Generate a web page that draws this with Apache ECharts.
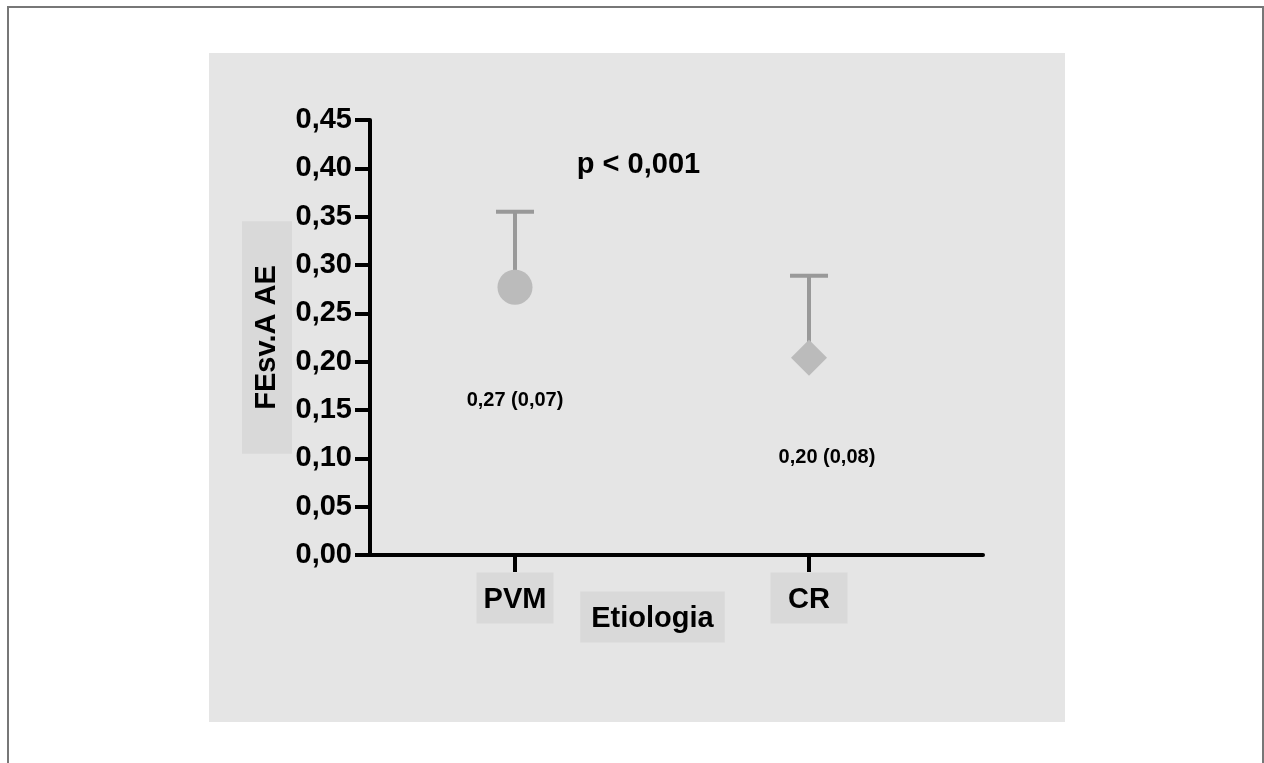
<!DOCTYPE html>
<html>
<head>
<meta charset="utf-8">
<script src="https://cdn.jsdelivr.net/npm/echarts@6/dist/echarts.min.js"></script>
<style>
  html,body{margin:0;padding:0;background:#fff;}
  #chart{width:1264px;height:763px;}
</style>
</head>
<body>
<div id="chart"></div>
<script>
// groups on the x axis (placed at 1 and 2)
var categories = ['PVM', 'CR'];
var catPos = [1, 2];
var means = [0.277, 0.204];
var upper = [0.355, 0.289];
var symbols = ['circle', 'diamond'];
var yTicks = [0, 0.05, 0.10, 0.15, 0.20, 0.25, 0.30, 0.35, 0.40, 0.45];

// text notes
var noteText = ['p < 0,001', '0,27 (0,07)', '0,20 (0,08)'];
var noteX = [1.42, 1.0, 2.061];
var noteY = [0.403, 0.160, 0.101];
var noteSize = [29, 20, 20];

var FONT = '"Liberation Sans Narrow", "Arial Narrow", "Liberation Sans", Arial, sans-serif';

var chart = echarts.init(document.getElementById('chart'));

var errData = catPos.map(function (x, i) { return [x, means[i], upper[i]]; });
var markData = catPos.map(function (x, i) {
  return { value: [x, means[i]], symbol: symbols[i], symbolSize: i === 0 ? 35 : 36 };
});
var notes = noteText.map(function (t, i) {
  return { value: [noteX[i], noteY[i]], name: t, label: { fontSize: noteSize[i] } };
});

var option = {
  animation: false,
  backgroundColor: '#fff',
  graphic: [
    { type: 'rect', z: -10, shape: { x: 8, y: 7, width: 1255, height: 800 },
      style: { fill: '#fff', stroke: '#777', lineWidth: 2 } },
    { type: 'rect', z: -9, shape: { x: 209, y: 53, width: 856, height: 669 },
      style: { fill: '#e5e5e5' } }
  ],
  grid: { left: 370, right: 281, top: 120, bottom: 208, containLabel: false },
  xAxis: {
    type: 'value',
    min: 0.5068,
    max: 2.5918,
    splitLine: { show: false },
    axisLine: { show: true, onZero: false, lineStyle: { color: '#000', width: 4 } },
    axisTick: { show: true, length: 17, customValues: catPos, lineStyle: { color: '#000', width: 4 } },
    axisLabel: {
      customValues: catPos,
      margin: 26,
      formatter: function (v) { return '{b|' + categories[catPos.indexOf(v)] + '}'; },
      rich: {
        b: { fontFamily: FONT, fontWeight: 'bold', fontSize: 29, color: '#000',
             width: 61, align: 'center', lineHeight: 34, backgroundColor: '#d9d9d9', padding: [13, 8, 9, 8] }
      }
    },
    name: '{a|Etiologia}{s|}',
    nameLocation: 'middle',
    nameGap: 45,
    nameMoveOverlap: false,
    nameTextStyle: {
      verticalAlign: 'top',
      rich: {
        a: { fontFamily: FONT, fontWeight: 'bold', fontSize: 29, color: '#000', lineHeight: 34,
             backgroundColor: '#d9d9d9', padding: [13, 11, 9, 11] },
        s: { width: 48 }
      }
    }
  },
  yAxis: {
    type: 'value',
    min: 0,
    max: 0.45,
    interval: 0.05,
    splitLine: { show: false },
    axisLine: { show: true, lineStyle: { color: '#000', width: 4 } },
    axisTick: { show: true, length: 15, lineStyle: { color: '#000', width: 4 } },
    axisLabel: {
      margin: 18,
      fontFamily: FONT, fontWeight: 'bold', fontSize: 29, color: '#000',
      formatter: function (v) { return v.toFixed(2).replace('.', ','); }
    },
    name: 'FEsv.A AE',
    nameLocation: 'middle',
    nameGap: 78,
    nameMoveOverlap: false,
    nameTextStyle: {
      fontFamily: FONT, fontWeight: 'bold', fontSize: 29, color: '#000', lineHeight: 34,
      backgroundColor: '#d9d9d9', padding: [8, 44, 8, 44]
    }
  },
  series: [
    {
      type: 'custom',
      data: errData,
      z: 2,
      renderItem: function (params, api) {
        var m = api.coord([api.value(0), api.value(1)]);
        var u = api.coord([api.value(0), api.value(2)]);
        var st = { stroke: '#999', lineWidth: 4 };
        return {
          type: 'group',
          children: [
            { type: 'line', shape: { x1: m[0], y1: m[1], x2: u[0], y2: u[1] }, style: st },
            { type: 'line', shape: { x1: u[0] - 19, y1: u[1], x2: u[0] + 19, y2: u[1] }, style: st }
          ]
        };
      }
    },
    {
      type: 'scatter',
      z: 3,
      data: markData,
      itemStyle: { color: '#bbbbbb', opacity: 1 }
    },
    {
      type: 'scatter',
      z: 4,
      data: notes,
      symbolSize: 0,
      itemStyle: { opacity: 1 },
      label: {
        show: true, position: 'inside', formatter: '{b}',
        fontFamily: FONT, fontWeight: 'bold', color: '#000'
      }
    }
  ]
};

chart.setOption(option);
</script>
</body>
</html>
